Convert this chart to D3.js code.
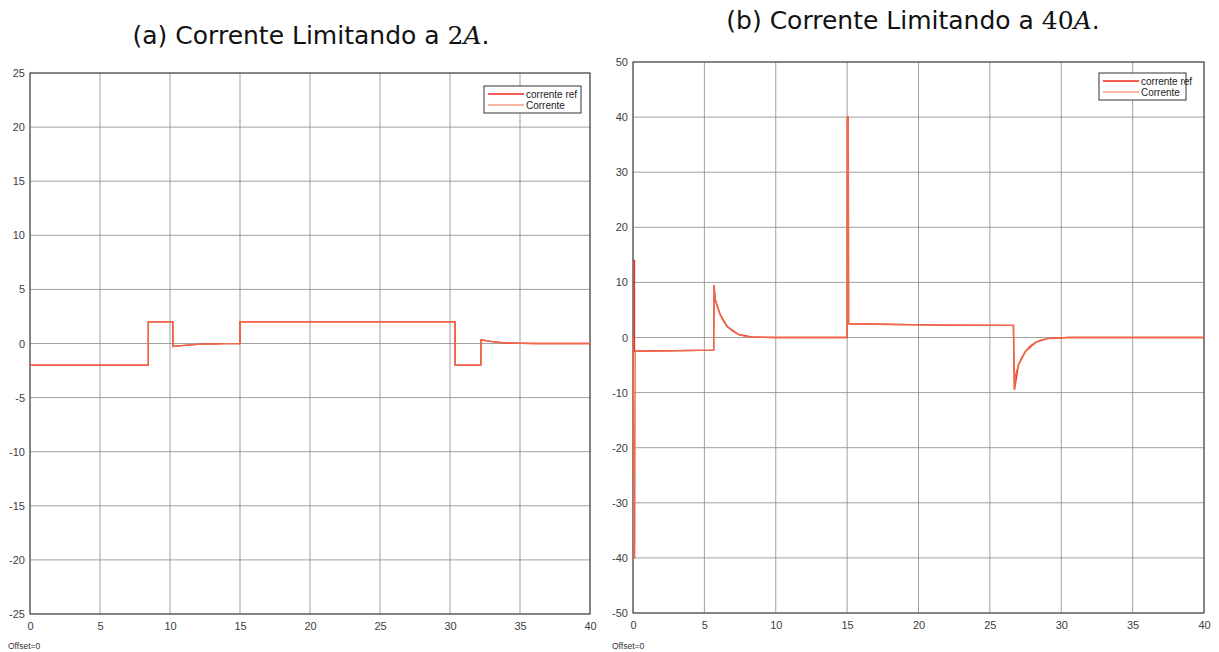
<!DOCTYPE html>
<html>
<head>
<meta charset="utf-8">
<script src="https://cdn.jsdelivr.net/npm/d3@7"></script>
<style>
  body { margin: 0; background: #fff; }
  svg text { font-family: "Liberation Sans", Arial, sans-serif; }
  .title { font-family: "DejaVu Sans", "Noto Sans", sans-serif; font-size: 25px; fill: #111; }
</style>
</head>
<body>
<svg id="chart" width="1219" height="652"></svg>
<script>
// ---- data (time in s, current in A) ----
const xTicks = [0, 5, 10, 15, 20, 25, 30, 35, 40];
const yTicksA = [-25, -20, -15, -10, -5, 0, 5, 10, 15, 20, 25];
const yTicksB = [-50, -40, -30, -20, -10, 0, 10, 20, 30, 40, 50];
const legendLabels = ["corrente ref", "Corrente"];

// (a) limit 2A
const refA = [[0,-2],[8.45,-2],[8.45,2],[10.2,2],[10.22,-0.28],[11,-0.17],[12,-0.08],[14,-0.01],[15,0],
              [15,2],[30.36,2],[30.36,-2],[32.2,-2],[32.22,0.35],[33,0.17],[34,0.05],[36,0],[40,0]];
const curA = [[0,-2],[8.45,-2],[8.45,2],[10.2,2],[10.22,-0.28],[10.6,-0.22],[11,-0.17],[11.5,-0.12],[12,-0.08],[13,-0.04],[14,-0.01],[15,0],
              [15,2],[30.36,2],[30.36,-2],[32.2,-2],[32.22,0.35],[32.6,0.25],[33,0.17],[33.5,0.1],[34,0.05],[35,0.01],[36,0],[40,0]];

// (b) limit 40A
const refB = [[0,14],[0.1,14],[0.1,-2.5],[1,-2.45],[5.65,-2.3],[5.68,9.5],[5.75,7],[6.1,4.2],[6.6,2],[7.4,0.55],[8.3,0.1],[10,0],
              [15,0],[15.02,40],[15.08,40],[15.1,2.5],[22,2.25],[26.65,2.2],[26.72,-9.5],[27,-5],[27.5,-2.5],[28.2,-0.9],[29,-0.2],[30.5,0],[40,0]];
const curB = [[0,0],[0.08,-40],[0.12,-40],[0.15,-2.5],[1,-2.45],[3,-2.4],[5.65,-2.3],[5.68,9.5],[5.75,7],[5.9,5.6],[6.1,4.2],[6.3,3.1],
              [6.6,2],[7,1.1],[7.4,0.55],[7.8,0.25],[8.3,0.1],[9,0.03],[10,0],[15,0],[15.02,40],[15.08,40],[15.1,2.5],[18,2.35],
              [22,2.25],[26.65,2.2],[26.72,-9.5],[26.8,-6.8],[27,-5],[27.2,-3.8],[27.5,-2.5],[27.8,-1.6],[28.2,-0.9],[28.6,-0.45],
              [29,-0.2],[29.6,-0.07],[30.5,0],[40,0]];

const refColor = "#f0281e";
const curColor = "#ee6a48";

const svg = d3.select("#chart");

function panel(cfg) {
  const x = d3.scaleLinear().domain([0, 40]).range([cfg.left, cfg.right]);
  const y = d3.scaleLinear().domain(cfg.yDomain).range([cfg.bottom, cfg.top]);
  const g = svg.append("g");

  // grid
  g.selectAll(".vg").data(xTicks).enter().append("line")
    .attr("x1", d => x(d)).attr("x2", d => x(d))
    .attr("y1", cfg.top).attr("y2", cfg.bottom)
    .attr("stroke", "#8a8a8a").attr("stroke-width", 1).attr("opacity", 0.8);
  g.selectAll(".hg").data(cfg.yTicks).enter().append("line")
    .attr("x1", cfg.left).attr("x2", cfg.right)
    .attr("y1", d => y(d)).attr("y2", d => y(d))
    .attr("stroke", "#8a8a8a").attr("stroke-width", 1).attr("opacity", 0.8);

  // axes (labels only)
  const xa = g.append("g").attr("transform", `translate(0,${cfg.bottom})`)
    .call(d3.axisBottom(x).tickValues(xTicks).tickFormat(d => String(d)).tickSize(0).tickPadding(8));
  const ya = g.append("g").attr("transform", `translate(${cfg.left},0)`)
    .call(d3.axisLeft(y).tickValues(cfg.yTicks).tickFormat(d => String(d)).tickSize(0).tickPadding(5));
  [xa, ya].forEach(a => {
    a.select(".domain").remove();
    a.selectAll("text").attr("fill", "#404040").style("font-size", "11px");
  });

  // box
  g.append("rect").attr("x", cfg.left).attr("y", cfg.top)
    .attr("width", cfg.right - cfg.left).attr("height", cfg.bottom - cfg.top)
    .attr("fill", "none").attr("stroke", "#3a3a3a").attr("stroke-width", 1);

  const line = d3.line().x(d => x(d[0])).y(d => y(d[1]));
  g.append("path").datum(cfg.ref).attr("d", line)
    .attr("fill", "none").attr("stroke", refColor).attr("stroke-width", 1.4);
  g.append("path").datum(cfg.cur).attr("d", line)
    .attr("fill", "none").attr("stroke", curColor).attr("stroke-width", 1.4);

  // legend
  const lg = g.append("g").attr("transform", `translate(${cfg.legX},${cfg.legY})`);
  lg.append("rect").attr("width", cfg.legW).attr("height", 27)
    .attr("fill", "#fff").attr("stroke", "#333").attr("stroke-width", 1);
  legendLabels.forEach((lab, i) => {
    lg.append("line").attr("x1", 4).attr("x2", 40).attr("y1", 8 + i * 11).attr("y2", 8 + i * 11)
      .attr("stroke", i === 0 ? refColor : curColor).attr("stroke-width", i === 0 ? 1.5 : 1);
    lg.append("text").attr("x", 42).attr("y", 11.5 + i * 11)
      .style("font-size", "10px").attr("fill", "#222").text(lab);
  });

  svg.append("text").attr("x", cfg.offX).attr("y", 649)
    .style("font-size", "8.5px").attr("fill", "#333").text("Offset=0");

  const t = svg.append("text").attr("class", "title")
    .attr("x", cfg.titleX).attr("y", cfg.titleY).attr("text-anchor", "middle");
  t.append("tspan").text(cfg.titleText);
  t.append("tspan").style("font-family", "'DejaVu Serif', serif").text(cfg.titleNum);
  t.append("tspan").style("font-family", "'DejaVu Serif', serif").style("font-style", "italic").text("A");
  t.append("tspan").text(".");
}

panel({
  left: 30, right: 590, top: 73, bottom: 614, yDomain: [-25, 25], yTicks: yTicksA,
  ref: refA, cur: curA, legX: 484, legY: 86, legW: 97, offX: 8,
  titleX: 311, titleY: 44, titleText: "(a) Corrente Limitando a ", titleNum: "2"
});
panel({
  left: 633, right: 1204, top: 62, bottom: 613, yDomain: [-50, 50], yTicks: yTicksB,
  ref: refB, cur: curB, legX: 1099, legY: 73, legW: 87, offX: 612,
  titleX: 913, titleY: 29, titleText: "(b) Corrente Limitando a ", titleNum: "40"
});
</script>
</body>
</html>
